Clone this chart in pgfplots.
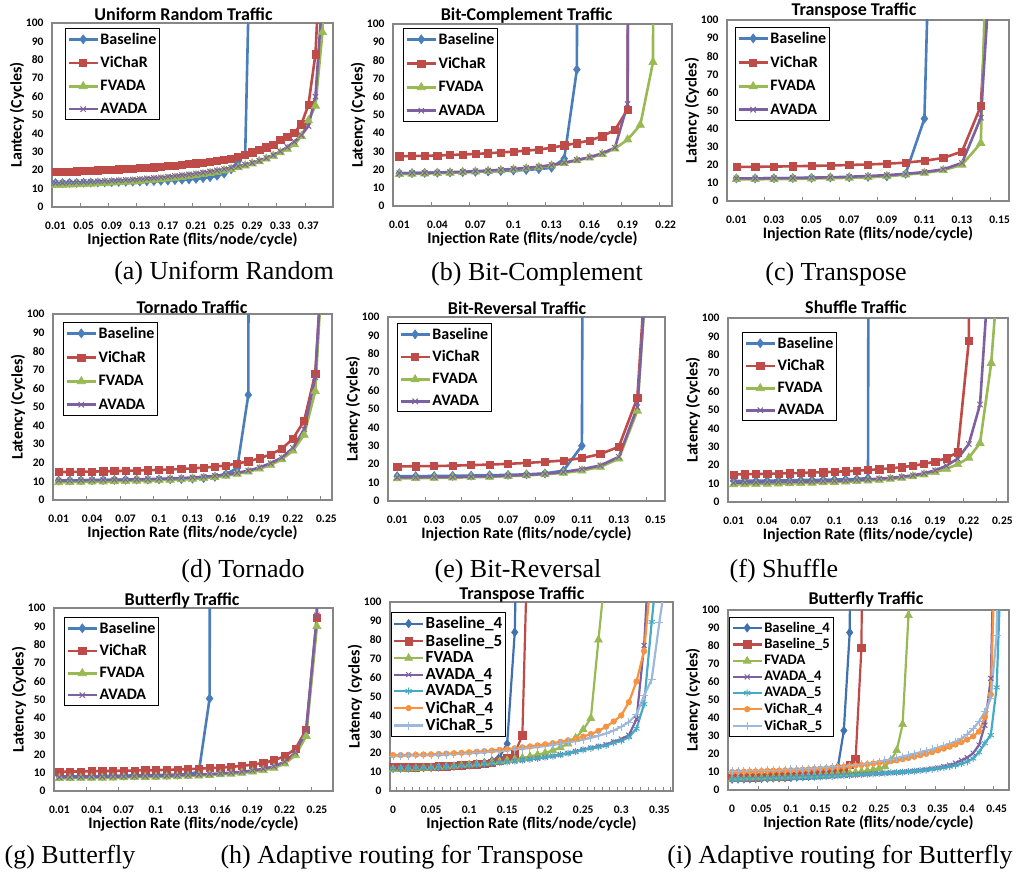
\documentclass[border=0pt]{standalone}
\usepackage{fontspec}
\setmainfont{Liberation Serif}
\newfontfamily\calib{Carlito}
\usepackage{pgfplots}
\usepackage{pgfplotstable}
\pgfplotsset{compat=1.18}

\definecolor{axgray}{HTML}{868686}
\definecolor{cBase}{HTML}{4A7EBB}
\definecolor{cVich}{HTML}{BE4B48}
\definecolor{cFv}{HTML}{98B954}
\definecolor{cAv}{HTML}{7D60A0}
\definecolor{cB4}{HTML}{3F70B0}
\definecolor{cA5}{HTML}{46AAC5}
\definecolor{cV4}{HTML}{F69240}
\definecolor{cV5}{HTML}{9DB8DC}

\newcommand\tf{\calib\bfseries}

% ---------------- data ----------------
\pgfplotstableread{
x base vich fv av
0.01 13.0 19.0 11.8 13.0
0.02 13.0 19.1 12.0 13.1
0.03 13.1 19.3 12.1 13.3
0.04 13.1 19.4 12.3 13.4
0.05 13.2 19.6 12.4 13.6
0.06 13.3 19.7 12.6 13.7
0.07 13.3 19.9 12.8 13.9
0.08 13.4 20.1 13.0 14.1
0.09 13.5 20.3 13.2 14.3
0.10 13.6 20.5 13.4 14.5
0.11 13.7 20.7 13.6 14.7
0.12 13.8 20.9 13.8 14.9
0.13 13.9 21.1 14.1 15.2
0.14 14.0 21.3 14.4 15.5
0.15 14.1 21.6 14.7 15.8
0.16 14.2 21.9 15.0 16.1
0.17 14.4 22.2 15.4 16.5
0.18 14.6 22.5 15.8 16.9
0.19 14.8 22.9 16.2 17.3
0.20 15.0 23.3 16.7 17.7
0.21 15.3 23.7 17.2 18.2
0.22 15.7 24.1 17.8 18.7
0.23 16.2 24.6 18.4 19.3
0.24 17.0 25.1 19.1 19.9
0.25 18.2 25.7 19.8 20.6
0.26 20.5 26.4 20.6 21.3
0.27 25.0 27.4 21.5 22.1
0.28 28.5 28.5 22.5 23.0
0.29 200 29.7 23.6 24.0
0.30 nan 31.0 24.8 25.2
0.31 nan 32.5 26.2 26.6
0.32 nan 34.0 27.8 28.2
0.33 nan 36.5 29.6 30.2
0.34 nan 38.0 31.5 32.6
0.35 nan 40.5 34.0 35.5
0.36 nan 45.0 38.5 39.0
0.37 nan 55.5 47.0 44.0
0.38 nan 83.0 55.0 60.0
0.39 nan 160 95.0 115
0.40 nan nan 500 nan
}\tA

\pgfplotstableread{
x base vich fv av
0.01 18.0 27.3 17.5 18.0
0.02 18.1 27.5 17.6 18.1
0.03 18.2 27.6 17.8 18.2
0.04 18.3 27.8 18.0 18.4
0.05 18.4 28.0 18.2 18.6
0.06 18.6 28.3 18.5 18.8
0.07 18.8 28.6 18.8 19.1
0.08 19.0 29.0 19.2 19.5
0.09 19.2 29.4 19.6 19.9
0.10 19.5 29.9 20.0 20.4
0.11 19.8 30.4 20.6 20.9
0.12 20.3 31.0 21.3 21.6
0.13 21.0 32.0 22.2 22.5
0.14 26.0 33.3 23.5 23.8
0.15 75.0 34.5 25.0 25.3
0.16 3000 36.0 26.5 26.8
0.17 nan 38.3 28.5 29.0
0.18 nan 41.8 31.5 32.0
0.19 nan 53.0 36.5 56.0
0.20 nan 3000 44.5 3000
0.21 nan nan 79.0 nan
0.22 nan nan 3000 nan
}\tB

\pgfplotstableread{
x base vich fv av
0.01 12.5 18.8 12.0 12.5
0.02 12.5 18.9 12.0 12.5
0.03 12.6 19.0 12.1 12.6
0.04 12.7 19.2 12.2 12.7
0.05 12.8 19.4 12.4 12.9
0.06 13.0 19.6 12.6 13.1
0.07 13.1 19.9 12.8 13.4
0.08 13.3 20.2 13.1 13.8
0.09 13.6 20.6 13.6 14.3
0.10 15.0 21.2 14.6 15.0
0.11 45.5 22.2 15.5 16.0
0.12 430 23.8 17.0 17.5
0.13 nan 27.3 20.0 21.0
0.14 nan 52.5 32.0 46.0
0.15 nan 245 400 210
}\tC

\pgfplotstableread{
x base vich fv av
0.01 10.5 15.0 9.5 10.5
0.02 10.5 15.1 9.6 10.5
0.03 10.6 15.2 9.7 10.6
0.04 10.6 15.3 9.8 10.7
0.05 10.7 15.4 9.9 10.8
0.06 10.8 15.5 10.0 10.9
0.07 10.9 15.7 10.1 11.0
0.08 11.0 15.9 10.3 11.1
0.09 11.0 16.0 10.4 11.2
0.10 11.1 16.2 10.6 11.4
0.11 11.2 16.4 10.8 11.6
0.12 11.3 16.7 11.0 11.8
0.13 11.5 17.0 11.3 12.1
0.14 11.8 17.4 11.7 12.5
0.15 12.5 17.9 12.3 13.0
0.16 14.0 18.6 13.0 13.7
0.17 17.0 19.6 14.0 14.6
0.18 56.5 20.8 15.2 15.8
0.19 3000 22.4 16.8 17.5
0.20 nan 24.5 18.8 19.8
0.21 nan 27.5 21.8 22.8
0.22 nan 33.0 26.5 28.0
0.23 nan 42.5 35.0 38.0
0.24 nan 68.0 58.5 66.0
0.25 nan 165 165 168
}\tD

\pgfplotstableread{
x base vich fv av
0.01 13.5 18.8 12.3 12.8
0.02 13.5 18.9 12.4 12.9
0.03 13.6 19.0 12.5 13.0
0.04 13.7 19.2 12.7 13.1
0.05 13.8 19.5 12.9 13.3
0.06 14.0 19.8 13.1 13.5
0.07 14.2 20.2 13.5 13.8
0.08 14.5 20.7 13.9 14.2
0.09 15.0 21.3 14.5 14.8
0.10 16.5 22.0 15.3 15.8
0.11 30.0 23.3 16.5 17.3
0.12 3000 25.5 18.5 19.3
0.13 nan 29.5 23.0 24.0
0.14 nan 56.0 49.0 51.0
0.15 nan 210 200 200
}\tE

\pgfplotstableread{
x base vich fv av
0.01 11.5 15.0 9.5 10.5
0.02 11.5 15.1 9.6 10.6
0.03 11.6 15.2 9.7 10.7
0.04 11.6 15.3 9.8 10.8
0.05 11.7 15.5 9.9 10.9
0.06 11.8 15.6 10.1 11.0
0.07 11.9 15.8 10.2 11.1
0.08 12.0 16.0 10.4 11.2
0.09 12.1 16.2 10.6 11.4
0.10 12.2 16.4 10.8 11.5
0.11 12.3 16.7 11.0 11.7
0.12 12.5 17.0 11.3 12.0
0.13 13.0 17.4 11.6 12.3
0.14 3000 17.8 12.0 12.7
0.15 nan 18.3 12.5 13.1
0.16 nan 18.9 13.1 13.7
0.17 nan 19.7 13.9 14.5
0.18 nan 20.7 14.9 15.6
0.19 nan 22.0 16.2 17.2
0.20 nan 23.8 18.0 19.7
0.21 nan 27.0 20.5 23.5
0.22 nan 87.5 24.0 31.5
0.23 nan 3000 32.0 53.0
0.24 nan nan 75.5 145
0.25 nan nan 155 nan
}\tF

\pgfplotstableread{
x base vich fv av
0.01 8.0 10.5 7.0 7.5
0.02 8.0 10.6 7.0 7.6
0.03 8.1 10.7 7.1 7.6
0.04 8.1 10.8 7.1 7.7
0.05 8.2 10.9 7.2 7.8
0.06 8.3 11.0 7.3 7.9
0.07 8.4 11.1 7.4 8.0
0.08 8.5 11.2 7.5 8.1
0.09 8.6 11.3 7.6 8.2
0.10 8.7 11.4 7.7 8.3
0.11 8.8 11.6 7.8 8.4
0.12 9.0 11.8 8.0 8.6
0.13 9.2 12.0 8.2 8.8
0.14 10.5 12.2 8.4 9.0
0.15 50.5 12.5 8.7 9.3
0.16 3000 12.8 9.0 9.6
0.17 nan 13.2 9.4 10.0
0.18 nan 13.7 9.9 10.5
0.19 nan 14.4 10.5 11.2
0.20 nan 15.3 11.3 12.1
0.21 nan 16.8 12.6 13.5
0.22 nan 19.0 15.0 16.0
0.23 nan 23.0 19.5 21.0
0.24 nan 33.5 30.0 33.0
0.25 nan 94.5 90.0 96.0
0.26 nan 3000 3000 3000
}\tG

\pgfplotstableread{
x b4 b5 fv a4 a5 v4 v5
0.00 12.0 12.5 11.5 12.0 12.0 19.0 18.5
0.01 12.1 12.6 11.6 12.1 12.1 19.0 18.6
0.02 12.2 12.6 11.8 12.2 12.2 19.1 18.7
0.03 12.3 12.7 11.9 12.3 12.3 19.2 18.8
0.04 12.4 12.8 12.1 12.4 12.4 19.3 18.9
0.05 12.5 12.9 12.3 12.5 12.5 19.4 19.0
0.06 12.7 13.0 12.5 12.7 12.7 19.6 19.1
0.07 12.9 13.1 12.8 12.9 12.9 19.8 19.3
0.08 13.1 13.3 13.1 13.1 13.1 20.0 19.5
0.09 13.4 13.5 13.4 13.3 13.3 20.2 19.7
0.10 13.8 13.8 13.8 13.6 13.6 20.5 19.9
0.11 14.3 14.1 14.2 13.9 13.9 20.8 20.2
0.12 15.0 14.5 14.6 14.2 14.2 21.1 20.5
0.13 16.0 15.0 15.1 14.6 14.6 21.4 20.8
0.14 18.0 16.0 15.6 15.0 15.0 21.8 21.1
0.15 25.0 17.5 16.2 15.4 15.4 22.2 21.5
0.16 84.0 20.0 16.8 15.8 15.8 22.6 21.9
0.17 300 29.5 17.5 16.3 16.3 23.1 22.3
0.18 nan 180 18.3 16.8 16.8 23.6 22.8
0.19 nan nan 19.2 17.3 17.3 24.1 23.3
0.20 nan nan 20.2 17.9 17.9 24.7 23.8
0.21 nan nan 21.5 18.5 18.5 25.3 24.4
0.22 nan nan 23.0 19.2 19.2 26.0 25.0
0.23 nan nan 25.0 20.0 20.0 26.8 25.7
0.24 nan nan 28.0 20.9 20.8 27.7 26.4
0.25 nan nan 32.5 21.9 21.7 28.8 27.2
0.26 nan nan 38.5 22.8 22.6 30.1 28.1
0.27 nan nan 80.0 23.6 23.3 31.8 29.2
0.28 nan nan 120 24.5 24.0 34.0 30.5
0.29 nan nan nan 26.0 25.5 36.8 32.0
0.30 nan nan nan 27.5 26.5 40.0 34.0
0.31 nan nan nan 29.5 28.5 47.0 36.5
0.32 nan nan nan 38.0 33.0 58.0 40.5
0.33 nan nan nan 77.0 46.0 74.0 50.5
0.34 nan nan nan 150 89.5 117 59.0
0.35 nan nan nan nan 130 nan 89.0
0.36 nan nan nan nan nan nan 117
}\tH

\pgfplotstableread{
x b4 b5 fv a4 a5 v4 v5
0.00 6.0 6.8 6.0 6.0 6.0 10.0 10.3
0.01 6.1 6.9 6.1 6.0 6.0 10.1 10.4
0.02 6.2 7.0 6.2 6.1 6.1 10.2 10.5
0.03 6.3 7.1 6.3 6.1 6.1 10.3 10.6
0.04 6.4 7.2 6.4 6.2 6.2 10.4 10.7
0.05 6.5 7.3 6.5 6.3 6.3 10.5 10.8
0.06 6.6 7.4 6.6 6.4 6.4 10.6 10.9
0.07 6.7 7.5 6.7 6.5 6.5 10.7 11.0
0.08 6.8 7.6 6.8 6.6 6.6 10.8 11.1
0.09 6.9 7.7 6.9 6.7 6.7 10.9 11.2
0.10 7.0 7.9 7.0 6.8 6.8 11.0 11.4
0.11 7.2 8.0 7.2 6.9 6.9 11.1 11.5
0.12 7.4 8.2 7.4 7.0 7.0 11.3 11.7
0.13 7.6 8.4 7.6 7.1 7.1 11.5 11.9
0.14 7.8 8.6 7.8 7.2 7.2 11.7 12.1
0.15 8.1 8.9 8.0 7.3 7.3 11.9 12.3
0.16 8.6 9.2 8.2 7.5 7.5 12.1 12.5
0.17 9.5 9.6 8.5 7.6 7.6 12.4 12.8
0.18 13.0 10.1 8.8 7.8 7.8 12.7 13.0
0.19 33.0 11.0 9.1 8.0 8.0 13.0 13.3
0.20 87.5 14.0 9.4 8.2 8.2 13.3 13.6
0.21 500 17.0 9.8 8.4 8.4 13.6 13.9
0.22 nan 79.0 10.2 8.6 8.6 13.9 14.3
0.23 nan 500 10.7 8.8 8.8 14.3 14.7
0.24 nan nan 11.3 9.0 9.0 14.7 15.2
0.25 nan nan 12.0 9.2 9.2 15.1 15.8
0.26 nan nan 13.0 9.4 9.4 15.5 16.4
0.27 nan nan 16.5 9.6 9.6 16.0 17.1
0.28 nan nan 22.0 9.8 9.8 16.5 17.8
0.29 nan nan 36.5 10.0 10.0 17.1 18.6
0.30 nan nan 97.0 10.3 10.2 17.8 19.4
0.31 nan nan 150 10.6 10.5 18.5 20.2
0.32 nan nan nan 10.9 10.8 19.3 21.0
0.33 nan nan nan 11.3 11.1 20.1 21.8
0.34 nan nan nan 11.8 11.5 21.0 22.6
0.35 nan nan nan 12.3 11.9 22.0 23.5
0.36 nan nan nan 13.0 12.4 23.0 24.5
0.37 nan nan nan 13.8 13.0 24.1 25.6
0.38 nan nan nan 15.0 13.7 25.3 26.9
0.39 nan nan nan 16.5 14.6 26.6 28.6
0.40 nan nan nan 18.0 15.7 28.0 31.0
0.41 nan nan nan 20.5 17.5 29.8 34.0
0.42 nan nan nan 25.0 21.0 32.5 38.0
0.43 nan nan nan 36.0 26.0 40.5 43.5
0.44 nan nan nan 62.0 30.5 53.0 51.0
0.45 nan nan nan 200 57.0 160 86.0
0.46 nan nan nan nan 150 nan 300
}\tI

% ---------------- styles ----------------
\pgfplotsset{
  panel/.style={
    scale only axis, anchor=south west,
    ymin=0, ymax=100,
    ytick={0,10,...,100},
    yticklabels={0,10,20,30,40,50,60,70,80,90,100},
    xtick pos=bottom, ytick pos=left,
    major tick length=0pt, minor tick length=4pt, tick align=inside,
    minor tick style={draw=axgray, line width=0.8pt},
    axis line style={draw=axgray, line width=1.1pt},
    tick label style={font=\tf\fontsize{11.5}{12}\selectfont},
    xticklabel style={anchor=center, yshift=-19pt},
    yticklabel style={anchor=east, xshift=-5pt},
    xlabel={Injection Rate (flits/node/cycle)},
    every axis x label/.style={at={(axis description cs:0.5,0)}, anchor=center, yshift=-33pt, font=\tf\fontsize{16}{18}\selectfont},
    every axis y label/.style={at={(axis description cs:0,0.5)}, xshift=-35pt, rotate=90, anchor=center, font=\tf\fontsize{16}{18}\selectfont},
    every axis title/.style={at={(axis description cs:0.5,1)}, anchor=base, font=\tf\fontsize{18}{20}\selectfont},
    legend cell align=left,
    legend style={anchor=north west, draw=black, line width=0.9pt, fill=white,
      font=\tf\fontsize{16}{17}\selectfont, inner xsep=2pt, inner ysep=3pt,
      nodes={inner sep=1.5pt}, row sep=7pt},
    legend image code/.code={\draw[##1, mark repeat=2, mark phase=2] plot coordinates {(0pt,0pt) (14.5pt,0pt) (29pt,0pt)};},
    unbounded coords=discard,
  },
  sBase/.style={color=cBase, line width=2.6pt, mark=diamond*, mark size=4.5pt, mark options={line width=0.6pt}},
  sVich/.style={color=cVich, line width=2.6pt, mark=square*, mark size=3.6pt, mark options={line width=0.6pt}},
  sFv/.style={color=cFv, line width=2.6pt, mark=triangle*, mark size=4.8pt, mark options={line width=0.6pt}},
  sAv/.style={color=cAv, line width=2.6pt, mark=x, mark size=3.8pt, mark options={line width=1pt}},
  hB4/.style={color=cB4, line width=2.2pt, mark=diamond*, mark size=4.2pt, mark options={line width=0.6pt}},
  hB5/.style={color=cVich, line width=2.2pt, mark=square*, mark size=3.8pt, mark options={line width=0.6pt}},
  hFv/.style={color=cFv, line width=2.2pt, mark=triangle*, mark size=4.5pt, mark options={line width=0.6pt}},
  hA4/.style={color=cAv, line width=2.2pt, mark=x, mark size=3.5pt, mark options={line width=1pt}},
  hA5/.style={color=cA5, line width=2.2pt, mark=asterisk, mark size=3.5pt, mark options={line width=1pt}},
  hV4/.style={color=cV4, line width=2.2pt, mark=*, mark size=2.8pt, mark options={line width=0.6pt}},
  hV5/.style={color=cV5, line width=2.2pt, mark=+, mark size=4pt, mark options={line width=1pt}},
}

\begin{document}
\begin{tikzpicture}
\useasboundingbox (0,0) rectangle (1016pt,-875pt);

% (a)
\begin{axis}[panel, at={(52pt,-207pt)}, width=281pt, height=184pt,
  xmin=0.005, xmax=0.405,
  xtick={0.01,0.05,0.09,0.13,0.17,0.21,0.25,0.29,0.33,0.37},
  xticklabels={0.01,0.05,0.09,0.13,0.17,0.21,0.25,0.29,0.33,0.37},
  minor xtick={0.045,0.085,0.125,0.165,0.205,0.245,0.285,0.325,0.365},
  ylabel={Lantecy (Cycles)},
  title={Uniform Random Traffic}, title style={at={(axis description cs:0.468,1)}, yshift=3pt},
  legend style={at={(0.046,0.973)}, row sep=8pt}]
\addplot[sBase] table[x=x,y=base]{\tA};
\addplot[sVich] table[x=x,y=vich]{\tA};
\addplot[sFv] table[x=x,y=fv]{\tA};
\addplot[sAv] table[x=x,y=av]{\tA};
\legend{Baseline,ViChaR,FVADA,AVADA}
\end{axis}

% (b)
\begin{axis}[panel, at={(393pt,-206pt)}, width=279pt, height=182pt,
  xmin=0.005, xmax=0.225,
  xtick={0.01,0.04,0.07,0.10,0.13,0.16,0.19,0.22},
  xticklabels={0.01,0.04,0.07,0.1,0.13,0.16,0.19,0.22},
  minor xtick={0.035,0.065,0.095,0.125,0.155,0.185,0.215},
  ylabel={Latency (Cycles)},
  title={Bit-Complement Traffic}, title style={at={(axis description cs:0.479,1)}, yshift=3.5pt},
  legend style={at={(0.036,0.978)}, row sep=8.5pt}]
\addplot[sBase] table[x=x,y=base]{\tB};
\addplot[sVich] table[x=x,y=vich]{\tB};
\addplot[sFv] table[x=x,y=fv]{\tB};
\addplot[sAv] table[x=x,y=av]{\tB};
\legend{Baseline,ViChaR,FVADA,AVADA}
\end{axis}

% (c)
\begin{axis}[panel, at={(727pt,-201pt)}, width=282pt, height=181pt,
  xmin=0.005, xmax=0.155,
  xtick={0.01,0.03,0.05,0.07,0.09,0.11,0.13,0.15},
  xticklabels={0.01,0.03,0.05,0.07,0.09,0.11,0.13,0.15},
  minor xtick={0.025,0.045,0.065,0.085,0.105,0.125,0.145},
  ylabel={Latency (Cycles)},
  title={Transpose Traffic}, title style={at={(axis description cs:0.45,1)}, yshift=5pt},
  legend style={at={(0.028,0.961)}, row sep=8.5pt}]
\addplot[sBase] table[x=x,y=base]{\tC};
\addplot[sVich] table[x=x,y=vich]{\tC};
\addplot[sFv] table[x=x,y=fv]{\tC};
\addplot[sAv] table[x=x,y=av]{\tC};
\legend{Baseline,ViChaR,FVADA,AVADA}
\end{axis}

% (d)
\begin{axis}[panel, at={(53pt,-500pt)}, width=279pt, height=186pt,
  xmin=0.005, xmax=0.255,
  xtick={0.01,0.04,0.07,0.10,0.13,0.16,0.19,0.22,0.25},
  xticklabels={0.01,0.04,0.07,0.1,0.13,0.16,0.19,0.22,0.25},
  minor xtick={0.035,0.065,0.095,0.125,0.155,0.185,0.215,0.245},
  ylabel={Latency (Cycles)},
  title={Tornado Traffic}, title style={at={(axis description cs:0.498,1)}, yshift=1pt},
  legend style={at={(0.036,0.957)}, row sep=8.5pt}]
\addplot[sBase] table[x=x,y=base]{\tD};
\addplot[sVich] table[x=x,y=vich]{\tD};
\addplot[sFv] table[x=x,y=fv]{\tD};
\addplot[sAv] table[x=x,y=av]{\tD};
\legend{Baseline,ViChaR,FVADA,AVADA}
\end{axis}

% (e)
\begin{axis}[panel, at={(388pt,-501pt)}, width=277pt, height=184pt,
  xmin=0.005, xmax=0.155,
  xtick={0.01,0.03,0.05,0.07,0.09,0.11,0.13,0.15},
  xticklabels={0.01,0.03,0.05,0.07,0.09,0.11,0.13,0.15},
  minor xtick={0.025,0.045,0.065,0.085,0.105,0.125,0.145},
  ylabel={Latency (Cycles)},
  title={Bit-Reversal Traffic}, title style={at={(axis description cs:0.466,1)}, yshift=3pt},
  legend style={at={(0.032,0.967)}, row sep=7pt}]
\addplot[sBase] table[x=x,y=base]{\tE};
\addplot[sVich] table[x=x,y=vich]{\tE};
\addplot[sFv] table[x=x,y=fv]{\tE};
\addplot[sAv] table[x=x,y=av]{\tE};
\legend{Baseline,ViChaR,FVADA,AVADA}
\end{axis}

% (f)
\begin{axis}[panel, at={(728pt,-502pt)}, width=280pt, height=184pt,
  xmin=0.005, xmax=0.255,
  xtick={0.01,0.04,0.07,0.10,0.13,0.16,0.19,0.22,0.25},
  xticklabels={0.01,0.04,0.07,0.1,0.13,0.16,0.19,0.22,0.25},
  minor xtick={0.035,0.065,0.095,0.125,0.155,0.185,0.215,0.245},
  ylabel={Latency (Cycles)},
  title={Shuffle Traffic}, title style={at={(axis description cs:0.457,1)}, yshift=5pt},
  legend style={at={(0.05,0.924)}, row sep=7pt}]
\addplot[sBase] table[x=x,y=base]{\tF};
\addplot[sVich] table[x=x,y=vich]{\tF};
\addplot[sFv] table[x=x,y=fv]{\tF};
\addplot[sAv] table[x=x,y=av]{\tF};
\legend{Baseline,ViChaR,FVADA,AVADA}
\end{axis}

% (g)
\begin{axis}[panel, at={(54pt,-791pt)}, width=279pt, height=183pt,
  xmin=0.005, xmax=0.265,
  xtick={0.01,0.04,0.07,0.10,0.13,0.16,0.19,0.22,0.25},
  xticklabels={0.01,0.04,0.07,0.1,0.13,0.16,0.19,0.22,0.25},
  minor xtick={0.035,0.065,0.095,0.125,0.155,0.185,0.215,0.245},
  ylabel={Latency (Cycles)},
  title={Butterfly Traffic}, title style={at={(axis description cs:0.459,1)}, yshift=3pt},
  legend style={at={(0.036,0.951)}, row sep=7pt}]
\addplot[sBase] table[x=x,y=base]{\tG};
\addplot[sVich] table[x=x,y=vich]{\tG};
\addplot[sFv] table[x=x,y=fv]{\tG};
\addplot[sAv] table[x=x,y=av]{\tG};
\legend{Baseline,ViChaR,FVADA,AVADA}
\end{axis}

% (h)
\begin{axis}[panel, at={(390pt,-791pt)}, width=283pt, height=189pt,
  xmin=-0.004, xmax=0.368,
  xtick={0,0.05,0.10,0.15,0.20,0.25,0.30,0.35},
  xticklabels={0,0.05,0.1,0.15,0.2,0.25,0.3,0.35},
  minor xtick={0.005,0.015,...,0.365},
  ylabel={Latency (cycles)},
  title={Transpose Traffic}, title style={at={(axis description cs:0.466,1)}, yshift=3pt},
  legend style={at={(0.002,0.947)}, row sep=1pt, font=\tf\fontsize{17}{18}\selectfont}]
\addplot[hB4] table[x=x,y=b4]{\tH};
\addplot[hB5] table[x=x,y=b5]{\tH};
\addplot[hFv] table[x=x,y=fv]{\tH};
\addplot[hA4] table[x=x,y=a4]{\tH};
\addplot[hA5] table[x=x,y=a5]{\tH};
\addplot[hV4] table[x=x,y=v4]{\tH};
\addplot[hV5] table[x=x,y=v5]{\tH};
\legend{Baseline\_4,Baseline\_5,FVADA,AVADA\_4,AVADA\_5,ViChaR\_4,ViChaR\_5}
\end{axis}

% (i)
\begin{axis}[panel, at={(728pt,-790pt)}, width=281pt, height=180pt,
  xmin=-0.007, xmax=0.471,
  xtick={0,0.05,0.10,0.15,0.20,0.25,0.30,0.35,0.40,0.45},
  xticklabels={0,0.05,0.1,0.15,0.2,0.25,0.3,0.35,0.4,0.45},
  minor xtick={0.045,0.095,0.145,0.195,0.245,0.295,0.345,0.395,0.445},
  ylabel={Latency (cycles)},
  title={Butterfly Traffic}, title style={at={(axis description cs:0.491,1)}, yshift=6pt},
  legend style={at={(0.004,0.961)}, row sep=2pt, font=\tf\fontsize{14.6}{16}\selectfont}]
\addplot[hB4] table[x=x,y=b4]{\tI};
\addplot[hB5] table[x=x,y=b5]{\tI};
\addplot[hFv] table[x=x,y=fv]{\tI};
\addplot[hA4] table[x=x,y=a4]{\tI};
\addplot[hA5] table[x=x,y=a5]{\tI};
\addplot[hV4] table[x=x,y=v4]{\tI};
\addplot[hV5] table[x=x,y=v5]{\tI};
\legend{Baseline\_4,Baseline\_5,FVADA,AVADA\_4,AVADA\_5,ViChaR\_4,ViChaR\_5}
\end{axis}

% sub-figure captions
\begin{scope}[every node/.style={anchor=base, font=\fontsize{26}{30}\selectfont, inner sep=0pt}]
\node at (224pt,-279pt) {(a) Uniform Random};
\node at (537pt,-280pt) {(b) Bit-Complement};
\node at (836pt,-280pt) {(c) Transpose};
\node at (243pt,-577pt) {(d) Tornado};
\node at (518pt,-577pt) {(e) Bit-Reversal};
\node at (784pt,-577pt) {(f) Shuffle};
\node at (70pt,-863pt) {(g) Butterfly};
\node at (402pt,-863pt) {(h) Adaptive routing for Transpose};
\node at (840pt,-863pt) {(i) Adaptive routing for Butterfly};
\end{scope}
\end{tikzpicture}
\end{document}
